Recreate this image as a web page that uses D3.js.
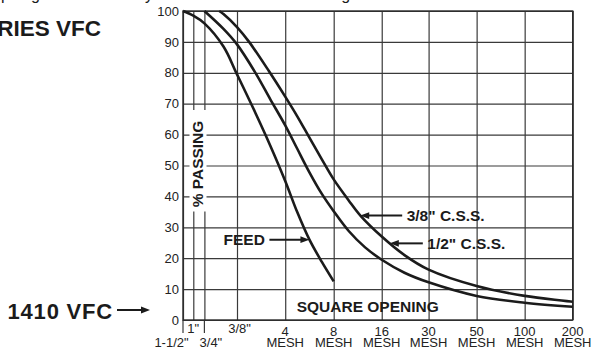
<!DOCTYPE html>
<html>
<head>
<meta charset="utf-8">
<script src="https://cdn.jsdelivr.net/npm/d3@7/dist/d3.min.js"></script>
<style>
  html, body { margin: 0; padding: 0; background: #fff; }
  svg { display: block; font-family: "Liberation Sans", Arial, Helvetica, sans-serif; }
</style>
</head>
<body>
<svg id="chart" width="594" height="350"></svg>
<script>
// Sieve sizes (opening in mm) and their axis labels
const sieveMM     = [38.1, 25.4, 19.05, 9.525, 4.75, 2.36, 1.18, 0.6, 0.3, 0.15, 0.075];
const sieveTop    = ['', '1"', '', '3/8"', '4', '8', '16', '30', '50', '100', '200'];
const sieveBottom = ['1-1/2"', '', '3/4"', '', 'MESH', 'MESH', 'MESH', 'MESH', 'MESH', 'MESH', 'MESH'];
const percentTicks = [0, 10, 20, 30, 40, 50, 60, 70, 80, 90, 100];

// Gradation curves: sieve size (mm) and cumulative % passing
const feedSize  = [38.1, 25.4, 19.05, 12.7, 9.525, 7.3, 5.9, 4.75, 4.0, 3.35, 2.8, 2.36];
const feedPass  = [100, 98.5, 96, 88.5, 79.5, 67, 56.5, 45, 35, 26, 18.8, 12.5];

const halfSize  = [19.05, 12.7, 9.525, 7.3, 5.9, 4.75, 4.0, 3.35, 2.8, 2.36, 1.9, 1.5, 1.18, 0.85, 0.6, 0.3, 0.15, 0.075];
const halfPass  = [100, 94.2, 89.2, 80, 71.5, 63, 55.5, 47.8, 40.8, 35.2, 28.8, 23.5, 19.5, 15.3, 12.2, 7.8, 5.6, 4.3];

const threeSize = [13.9, 12.7, 9.525, 8.0, 6.0, 4.75, 4.0, 3.35, 2.8, 2.36, 1.9, 1.6, 1.18, 0.85, 0.6, 0.3, 0.15, 0.075];
const threePass = [100, 99, 94.8, 90, 80.5, 72.3, 66, 59, 52, 45.5, 38.7, 33.7, 27, 21, 16.3, 11, 7.8, 5.9];

// Callouts: text and the point (size, % passing) its arrow touches
const calloutText = ['FEED', '3/8" C.S.S.', '1/2" C.S.S.'];
const calloutSize = [3.35, 1.61, 1.05];
const calloutPass = [26, 33.8, 24.8];

const svg = d3.select('#chart');
const plot = { left: 183, right: 572.7, top: 11, bottom: 320 };
const pw = plot.right - plot.left, ph = plot.bottom - plot.top;

// Sieve axis: log spacing, with the coarse inch sizes compressed
const x = d3.scaleLog()
  .domain([38.1, 25.4, 19.05, 9.525, 0.075])
  .range([0, 10.3, 21.4, 54, pw].map(d => plot.left + d));
const y = d3.scaleLinear().domain([0, 100]).range([plot.bottom, plot.top]);

const ink = '#1b1b1b', gridInk = '#3a3a3a';

// Horizontal grid + percent labels
const yAxis = svg.append('g')
  .attr('transform', `translate(${plot.left},0)`)
  .call(d3.axisLeft(y).tickValues(percentTicks).tickSize(-pw).tickPadding(4).tickFormat(d3.format('d')));
yAxis.select('.domain').remove();
yAxis.selectAll('.tick line').attr('stroke', gridInk).attr('stroke-width', 1.2);
yAxis.selectAll('.tick text').attr('font-size', 13).attr('fill', '#222')
  .attr('font-family', '"Liberation Sans", Arial, sans-serif');

// Vertical grid at every sieve size
const xAxis = svg.append('g')
  .attr('transform', `translate(0,${plot.bottom})`)
  .call(d3.axisBottom(x).tickValues(sieveMM).tickSize(-ph).tickFormat(''));
xAxis.select('.domain').remove();
xAxis.selectAll('.tick line').attr('stroke', gridInk).attr('stroke-width', 1.2);

// Tick extensions below the axis for the second label row
svg.append('g').selectAll('line')
  .data([sieveMM[0], sieveMM[2]])
  .join('line')
  .attr('x1', d => x(d)).attr('x2', d => x(d))
  .attr('y1', plot.bottom).attr('y2', plot.bottom + 13)
  .attr('stroke', gridInk).attr('stroke-width', 1.2);

// Frame
svg.append('rect')
  .attr('x', plot.left).attr('y', plot.top).attr('width', pw).attr('height', ph)
  .attr('fill', 'none').attr('stroke', '#2a2a2a').attr('stroke-width', 1.4);

// Sieve labels
const labelFont = '"Liberation Sans", Arial, sans-serif';
const topShift = [0, 0, 0, 2.5, 0, 0, 0, 0, 0, 0, 0];
const botShift = [-11.5, 0, 6.5, 0, 0, 0, 0, 0, 0, 0, 0];
svg.append('g').selectAll('text')
  .data(sieveMM.map((s, i) => ({ s, i })).filter(d => sieveTop[d.i]))
  .join('text')
  .attr('x', d => x(d.s) + topShift[d.i])
  .attr('y', d => d.i < 4 ? 333 : 335.5)
  .attr('text-anchor', 'middle').attr('font-size', 13).attr('fill', '#222')
  .attr('font-family', labelFont)
  .text(d => sieveTop[d.i]);
svg.append('g').selectAll('text')
  .data(sieveMM.map((s, i) => ({ s, i })).filter(d => sieveBottom[d.i]))
  .join('text')
  .attr('x', d => x(d.s) + botShift[d.i])
  .attr('y', 346.8)
  .attr('text-anchor', 'middle').attr('font-size', 13).attr('fill', '#222')
  .attr('font-family', labelFont)
  .text(d => sieveBottom[d.i]);

// Vertical "% PASSING" label on a white band
svg.append('rect').attr('x', 189.5).attr('y', 110).attr('width', 17).attr('height', 101.5).attr('fill', '#fff');
svg.append('text')
  .attr('transform', `translate(203.3,164) rotate(-90)`)
  .attr('text-anchor', 'middle').attr('font-size', 15.5).attr('font-weight', 'bold').attr('fill', ink)
  .text('% PASSING');

// Curves
const line = d3.line().x(d => x(d[0])).y(d => y(d[1])).curve(d3.curveCatmullRom.alpha(0.5));
const series = [
  d3.zip(feedSize, feedPass),
  d3.zip(halfSize, halfPass),
  d3.zip(threeSize, threePass)
];
svg.append('g').selectAll('path')
  .data(series)
  .join('path')
  .attr('d', line)
  .attr('fill', 'none').attr('stroke', ink).attr('stroke-width', 2.6)
  .attr('stroke-linecap', 'butt');

// Arrow helper: a shaft with a filled head at (tx, ty); dir = +1 points right, -1 points left
function arrow(tx, ty, len, dir) {
  const g = svg.append('g');
  const head = 9, half = 3.4;
  g.append('line')
    .attr('x1', tx - dir * len).attr('x2', tx - dir * head * 0.8)
    .attr('y1', ty).attr('y2', ty)
    .attr('stroke', ink).attr('stroke-width', 2);
  g.append('path')
    .attr('d', `M${tx},${ty} L${tx - dir * head},${ty - half} L${tx - dir * head},${ty + half} Z`)
    .attr('fill', ink);
}

// Callouts
const arrowLen = [40, 42, 33];
const arrowDir = [1, -1, -1];
calloutText.forEach((t, i) => {
  const tx = x(calloutSize[i]), ty = y(calloutPass[i]);
  arrow(tx, ty, arrowLen[i], arrowDir[i]);
  const dir = arrowDir[i];
  svg.append('text')
    .attr('x', tx - dir * (arrowLen[i] + 4.5))
    .attr('y', ty + 5.8)
    .attr('text-anchor', dir > 0 ? 'end' : 'start')
    .attr('font-size', 15.5).attr('font-weight', 'bold').attr('fill', ink)
    .text(t);
});

svg.append('text')
  .attr('x', plot.left + 113.7).attr('y', 312)
  .attr('font-size', 15.5).attr('font-weight', 'bold').attr('fill', ink)
  .text('SQUARE OPENING');

// Model titles
svg.append('text')
  .attr('x', 101).attr('y', 36)
  .attr('text-anchor', 'end').attr('font-size', 22.5).attr('font-weight', 'bold').attr('fill', ink)
  .text('SERIES VFC');
svg.append('text')
  .attr('x', 113).attr('y', 319.3)
  .attr('text-anchor', 'end').attr('font-size', 22).attr('font-weight', 'bold').attr('fill', ink)
  .attr('letter-spacing', 0.8)
  .text('1410 VFC');
arrow(150, 310, 33, 1);

// Heading line running off the top edge
const head = svg.append('text').attr('y', 0).attr('font-size', 16).attr('fill', ink);
[['up', -8], ['gradation', 31], ['by', 136], ['setting', 303]].forEach(([w, px]) => {
  head.append('tspan').attr('x', px).text(w);
});
</script>
</body>
</html>
